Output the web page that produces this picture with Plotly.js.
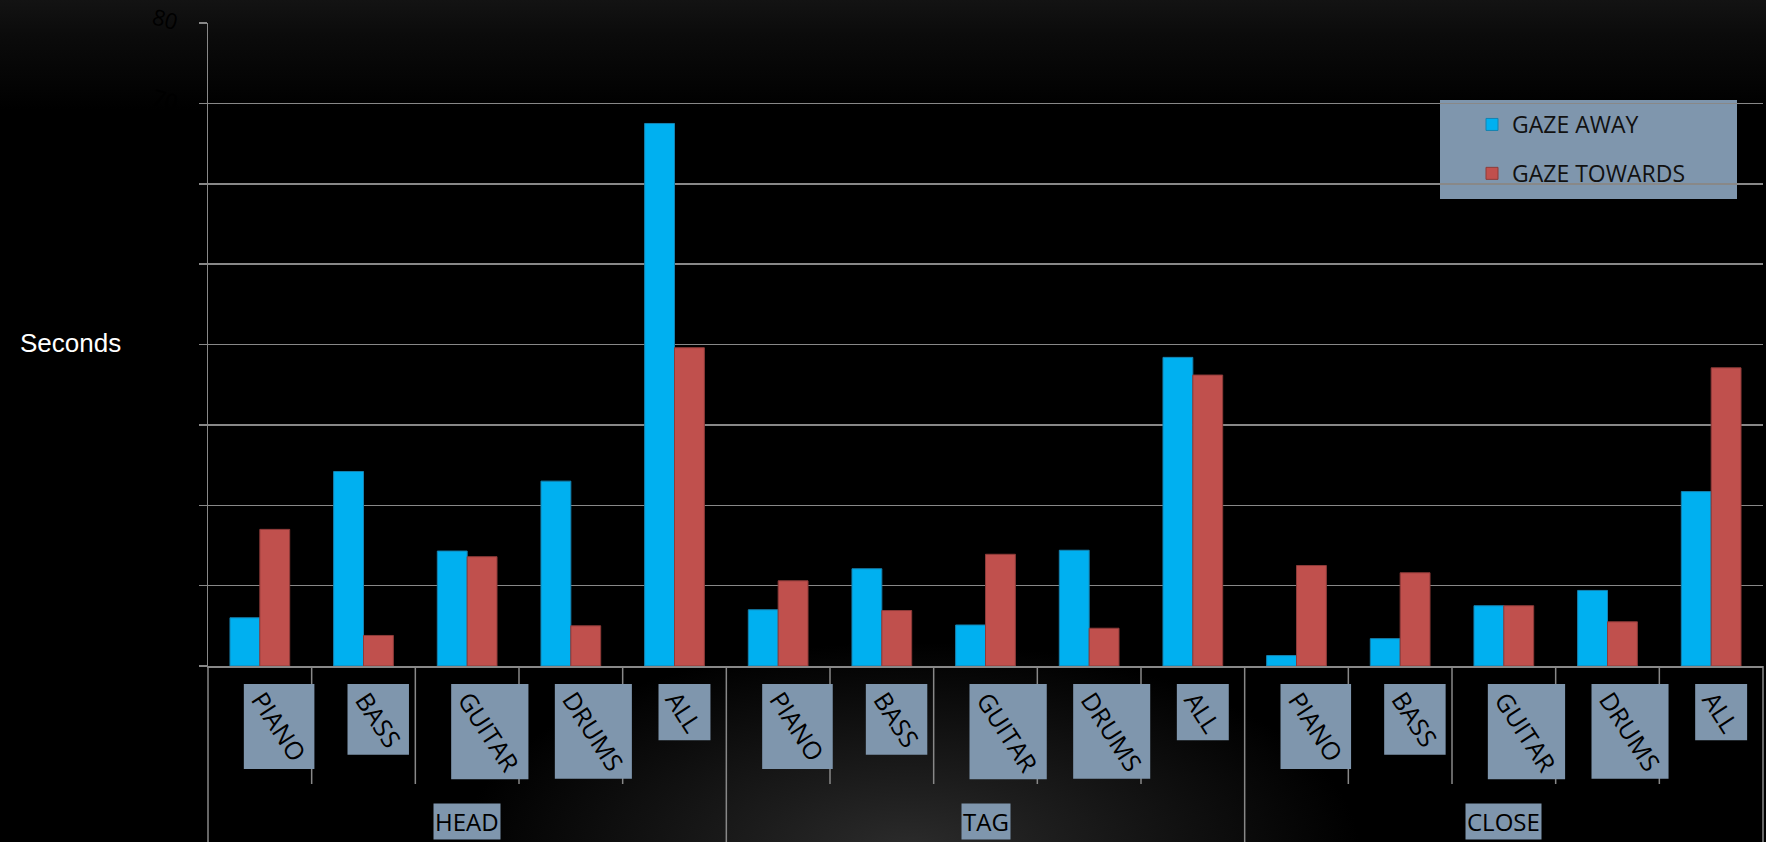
<!DOCTYPE html>
<html>
<head>
<meta charset="utf-8">
<script src="https://cdn.plot.ly/plotly-3.0.1.min.js"></script>
<style>
  html, body { margin: 0; padding: 0; background: #000; }
  #chart {
    width: 1766px; height: 842px;
    background:
      radial-gradient(ellipse 450px 210px at 910px 852px, #2c2c2c 0%, #1c1c1c 35%, rgba(0,0,0,0) 100%),
      linear-gradient(to bottom, #131313 0px, #0b0b0b 35px, #000 110px);
  }
</style>
</head>
<body>
<div id="chart"></div>
<script>
// ---- data ----
const groups = ['HEAD', 'TAG', 'CLOSE'];
const instruments = ['PIANO', 'BASS', 'GUITAR', 'DRUMS', 'ALL'];
const seriesNames = ['GAZE AWAY', 'GAZE TOWARDS'];
const gazeAway    = [6.0, 24.2, 14.3, 23.0, 67.5,   7.0, 12.1, 5.1, 14.4, 38.4,   1.3, 3.4, 7.5, 9.4, 21.7];
const gazeTowards = [17.0, 3.8, 13.6, 5.0, 39.6,   10.6, 6.9, 13.9, 4.7, 36.2,   12.5, 11.6, 7.5, 5.5, 37.1];
const yTickValues = [0, 10, 20, 30, 40, 50, 60, 70, 80];
const yAxisTitle = 'Seconds';

// ---- styles ----
const BLUE = '#00b0f0', RED = '#c0504d', BOX = '#7f96ad', GRID = '#888888';
const LABEL_FONT = 'Open Sans';
const LABEL_SIZE = 25;
const LABEL_ANGLE = 57;

// category keys (unique per group/instrument)
const categories = [], catLabels = [];
groups.forEach(g => instruments.forEach(i => { categories.push(g + ' · ' + i); catLabels.push(i); }));
const nPer = instruments.length;

const traces = [
  { type: 'bar', name: seriesNames[0], x: categories, y: gazeAway, legendgroup: 'a',
    marker: { color: BLUE, line: { color: '#1582b0', width: 1 } }, hoverinfo: 'skip' },
  { type: 'bar', name: seriesNames[1], x: categories, y: gazeTowards, legendgroup: 'b',
    marker: { color: RED, line: { color: '#8e3b39', width: 1 } }, hoverinfo: 'skip' }
];

// measure label text to size the boxes like the rotated label bounding boxes
const ctx = document.createElement('canvas').getContext('2d');
ctx.font = LABEL_SIZE + 'px "' + LABEL_FONT + '"';
const rad = LABEL_ANGLE * Math.PI / 180;
function boxSize(t) {
  const L = ctx.measureText(t).width;
  const H = 24;
  return { w: L * Math.cos(rad) + H * Math.sin(rad) + 9,
           h: L * Math.sin(rad) + H * Math.cos(rad) + 8 };
}

const shapes = [];
const annotations = [];
const lineStyle = { color: GRID, width: 1.5 };

// divider lines below the axis
for (let k = 0; k <= categories.length; k++) {
  const isGroup = k % nPer === 0;
  const len = isGroup ? 190 : 118;
  const edge = (k === 0 || k === categories.length);
  shapes.push({
    type: 'line', layer: 'above',
    xref: edge ? 'paper' : 'x', x0: edge ? (k === 0 ? 0 : 1) : k - 0.5, x1: edge ? (k === 0 ? 0 : 1) : k - 0.5,
    yref: 'paper', ysizemode: 'pixel', yanchor: 0, y0: 0, y1: -len,
    line: lineStyle
  });
}

// label boxes and rotated labels
categories.forEach((c, idx) => {
  const s = boxSize(catLabels[idx]);
  const left = -16, top = 18;
  shapes.push({
    type: 'rect', layer: 'above',
    xref: 'x', xsizemode: 'pixel', xanchor: idx, x0: left, x1: left + s.w,
    yref: 'paper', ysizemode: 'pixel', yanchor: 0, y0: -top, y1: -(top + s.h),
    fillcolor: BOX, line: { width: 0 }
  });
  annotations.push({
    xref: 'x', x: idx, xshift: left + s.w / 2,
    yref: 'paper', y: 0, yshift: -(top + s.h / 2),
    text: catLabels[idx], textangle: LABEL_ANGLE, showarrow: false,
    xanchor: 'center', yanchor: 'middle',
    font: { family: LABEL_FONT, size: LABEL_SIZE, color: '#000' }
  });
});

// group labels
groups.forEach((g, gi) => {
  annotations.push({
    xref: 'x', x: gi * nPer + (nPer - 1) / 2,
    yref: 'paper', y: 0, yshift: -155,
    text: g, showarrow: false, xanchor: 'center', yanchor: 'middle',
    bgcolor: BOX, borderpad: 1,
    font: { family: LABEL_FONT, size: 24, color: '#000' }
  });
});

// y axis title (horizontal)
annotations.push({
  xref: 'paper', x: 0, xshift: -138, yref: 'paper', y: 0.5, yshift: 2,
  text: yAxisTitle, showarrow: false, xanchor: 'center', yanchor: 'middle',
  font: { family: 'Liberation Sans, Arial', size: 26, color: '#ffffff' }
});

// legend background box
shapes.push({
  type: 'rect', layer: 'below', xref: 'paper', yref: 'paper',
  x0: (1440 - 208) / 1555, x1: (1737 - 208) / 1555,
  y0: (666 - 199) / 643, y1: (666 - 100) / 643,
  fillcolor: BOX, line: { width: 0 }
});

const layout = {
  width: 1766, height: 842,
  margin: { l: 208, r: 3, t: 23, b: 176, pad: 0 },
  paper_bgcolor: 'rgba(0,0,0,0)',
  plot_bgcolor: 'rgba(0,0,0,0)',
  barmode: 'group', bargap: 0.424, bargroupgap: 0,
  showlegend: true,
  legend: {
    x: (1472 - 208) / 1555, xanchor: 'left', y: (666 - 103) / 643, yanchor: 'top',
    bgcolor: 'rgba(0,0,0,0)', borderwidth: 0,
    traceorder: 'grouped', tracegroupgap: 16,
    font: { family: LABEL_FONT, size: 23, color: '#111' }
  },
  xaxis: {
    type: 'category', categoryorder: 'array', categoryarray: categories,
    showticklabels: false, ticks: '', showgrid: false, zeroline: false,
    showline: true, linecolor: GRID, linewidth: 1.5, fixedrange: true
  },
  yaxis: {
    range: [0, 80], tickvals: yTickValues, ticktext: yTickValues.map(String),
    showgrid: true, gridcolor: GRID, gridwidth: 1.5, zeroline: false,
    showline: true, linecolor: GRID, linewidth: 1.5,
    ticks: 'outside', ticklen: 8, tickcolor: GRID, tickwidth: 1.5,
    tickangle: 15, ticklabelstandoff: 16,
    tickfont: { family: LABEL_FONT, size: 22, color: '#000' },
    fixedrange: true
  },
  shapes: shapes,
  annotations: annotations
};

Plotly.newPlot('chart', traces, layout, { staticPlot: true, displayModeBar: false });
</script>
</body>
</html>
